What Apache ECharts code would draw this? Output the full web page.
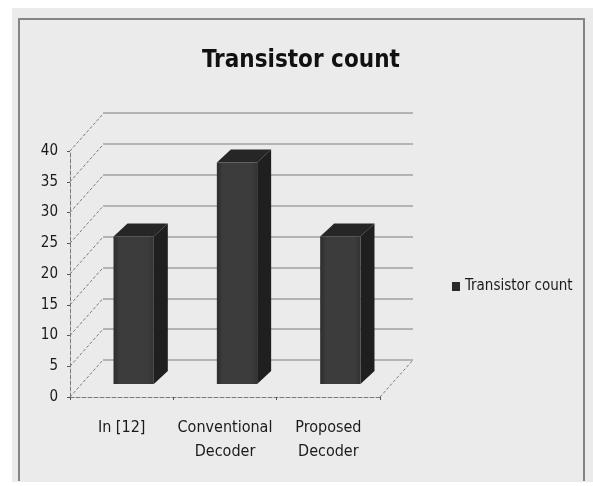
<!DOCTYPE html>
<html>
<head>
<meta charset="utf-8">
<style>
  html, body { margin: 0; padding: 0; background: #ffffff; }
  #chart { width: 593px; height: 486px; }
</style>
<script src="https://cdn.jsdelivr.net/npm/echarts@6/dist/echarts.min.js"></script>
</head>
<body>
<div id="chart"></div>
<script>
// Chart data
const categories = ['In [12]', 'Conventional\nDecoder', 'Proposed\nDecoder'];
const transistorCount = [24, 36, 24];
const seriesName = 'Transistor count';
const yTicks = [0, 5, 10, 15, 20, 25, 30, 35, 40];

// Oblique depth of the 3-D floor (pixels) and bar placement inside it
const DEPTH_X = 33, DEPTH_Y = 37;
const BAR_OFF_X = 12, BAR_OFF_Y = 13;   // bar front face sits part-way into the floor
const BAR_DX = 14, BAR_DY = 13;         // bar thickness (side / top faces)

const FONT = "'Liberation Sans Narrow', 'DejaVu Sans Condensed', 'Liberation Sans', sans-serif";

const chart = echarts.init(document.getElementById('chart'));

function barItem(params, api) {
  const i = api.value(0);
  const v = api.value(1);
  const base = api.coord([i, 0]);
  const top = api.coord([i, v]);
  const w = api.size([1, 0])[0] * 0.39;
  const x1 = base[0] + BAR_OFF_X - w / 2;
  const x2 = x1 + w;
  const yb = base[1] - BAR_OFF_Y;
  const yt = top[1] - BAR_OFF_Y;
  return {
    type: 'group',
    children: [
      { type: 'polygon', shape: { points: [[x2, yt], [x2 + BAR_DX, yt - BAR_DY], [x2 + BAR_DX, yb - BAR_DY], [x2, yb]] },
        style: { fill: '#1f1f1f' } },
      { type: 'polygon', shape: { points: [[x1, yt], [x1 + BAR_DX, yt - BAR_DY], [x2 + BAR_DX, yt - BAR_DY], [x2, yt]] },
        style: { fill: '#262626' } },
      { type: 'rect', shape: { x: x1, y: yt, width: w, height: yb - yt },
        style: { fill: {
          type: 'linear', x: 0, y: 0, x2: 1, y2: 0,
          colorStops: [{ offset: 0, color: '#2c2c2c' }, { offset: 0.15, color: '#3c3c3c' },
                       { offset: 0.85, color: '#3c3c3c' }, { offset: 1, color: '#333333' }]
        } } }
    ]
  };
}

// Diagonal floor/wall edges running from the front axis back to the wall
function diagItem(params, api) {
  const edge = api.value(0);   // 0 = left edge, 1 = right edge
  const v = api.value(1);
  const half = api.size([1, 0])[0] / 2;
  const p = api.coord([edge === 0 ? 0 : categories.length - 1, v]);
  const x = edge === 0 ? p[0] - half : p[0] + half;
  return {
    type: 'line',
    shape: { x1: x, y1: p[1], x2: x + DEPTH_X, y2: p[1] - DEPTH_Y },
    style: { stroke: '#7a7a7a', lineWidth: 1, lineDash: [3, 2] }
  };
}

const diagData = yTicks.map(v => [0, v]).concat([[1, 0]]);

chart.setOption({
  animation: false,
  backgroundColor: '#ffffff',
  graphic: [
    { type: 'rect', z: -100, shape: { x: 12, y: 8, width: 581, height: 474 }, style: { fill: '#ebebeb' } },
    { type: 'polyline', z: -99, shape: { points: [[19, 481], [19, 19], [584, 19], [584, 481]] },
      style: { stroke: '#858585', lineWidth: 2, fill: null } }
  ],
  title: {
    text: 'Transistor count',
    left: 197,
    top: 44,
    textStyle: { fontFamily: FONT, fontWeight: 'bold', fontSize: 24, color: '#111' }
  },
  legend: {
    data: [seriesName],
    left: 447,
    top: 274,
    icon: 'rect',
    itemWidth: 8,
    itemHeight: 9,
    textStyle: { fontFamily: FONT, fontSize: 15, color: '#1a1a1a' }
  },
  grid: [
    // front plane: carries the axes and the bars
    { left: 70, right: 213, top: 151, bottom: 89 },
    // back wall: carries the gridlines
    { left: 103, right: 180, top: 113, bottom: 126 }
  ],
  xAxis: [
    {
      gridIndex: 0, type: 'category', data: categories, boundaryGap: true,
      axisLine: { lineStyle: { color: '#7a7a7a', type: [4, 2], width: 1 } },
      axisTick: { show: true, length: 3, lineStyle: { color: '#555' } },
      axisLabel: { interval: 0, fontFamily: FONT, fontSize: 16, color: '#1a1a1a', margin: 19, lineHeight: 24 }
    },
    { gridIndex: 1, type: 'category', data: categories, show: false }
  ],
  yAxis: [
    {
      gridIndex: 0, type: 'value', min: 0, max: 40, interval: 5,
      axisLine: { show: true, lineStyle: { color: '#7a7a7a', type: [4, 2], width: 1 } },
      axisTick: { show: true, length: 3, lineStyle: { color: '#555' } },
      splitLine: { show: false },
      axisLabel: { fontFamily: FONT, fontSize: 15, color: '#1a1a1a', margin: 12 }
    },
    {
      gridIndex: 1, type: 'value', min: 0, max: 40, interval: 5,
      axisLine: { show: false }, axisTick: { show: false }, axisLabel: { show: false },
      splitLine: { show: true, lineStyle: { color: '#b4b4b4', width: 2 } }
    }
  ],
  series: [
    {
      type: 'custom', name: 'floor-edges', xAxisIndex: 0, yAxisIndex: 0,
      renderItem: diagItem, data: diagData, silent: true, z: 1
    },
    {
      type: 'custom', name: seriesName, xAxisIndex: 0, yAxisIndex: 0,
      itemStyle: { color: '#2a2a2a' },
      renderItem: barItem,
      data: transistorCount.map((v, i) => [i, v]),
      encode: { x: 0, y: 1 },
      z: 3
    }
  ]
});
</script>
</body>
</html>
